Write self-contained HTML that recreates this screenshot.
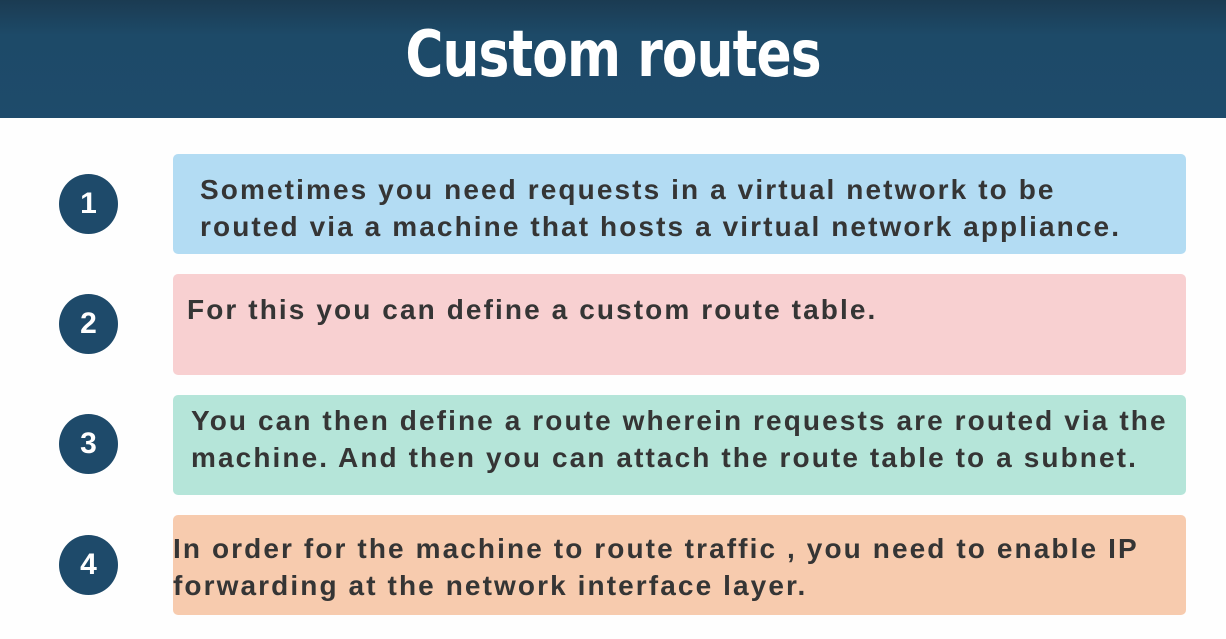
<!DOCTYPE html>
<html><head><style>
body{margin:0;width:1226px;height:639px;background:#fefefe;position:relative;overflow:hidden;font-family:"Liberation Sans",sans-serif}
.hdr{position:absolute;left:0;top:0;width:1226px;height:118px;background:linear-gradient(#1b3b52,#1d4a68 30%,#1e4b6b)}
.title{position:absolute;left:0;width:1226px;top:18px;text-align:center;color:#fff;font-size:64px;font-weight:bold;font-family:"DejaVu Sans Condensed","Liberation Sans Narrow",sans-serif;letter-spacing:-1px;transform:scaleX(0.9)}
.c{position:absolute;left:59px;width:59px;height:60px;border-radius:50%;background:#1e4a6a;color:#fff;font-weight:bold;font-size:30px;text-align:center;line-height:60px}
.b{position:absolute;left:173px;width:1013px;border-radius:5px;color:#353535;font-weight:bold;font-size:28px;letter-spacing:2.1px;line-height:37px;box-sizing:border-box;white-space:nowrap}
</style></head><body>
<div class="hdr"></div>
<div class="title">Custom routes</div>
<div class="c" style="top:174px">1</div>
<div class="c" style="top:294px">2</div>
<div class="c" style="top:414px">3</div>
<div class="c" style="top:535px">4</div>
<div class="b" style="top:154px;height:100px;background:#b3dcf3;padding:17px 0 0 27px">Sometimes you need requests in a virtual network to be<br>routed via a machine that hosts a virtual network appliance.</div>
<div class="b" style="top:274px;height:101px;background:#f8d0d1;padding:17px 0 0 14px">For this you can define a custom route table.</div>
<div class="b" style="top:395px;height:100px;background:#b5e5d9;padding:7px 0 0 18px">You can then define a route wherein requests are routed via the<br>machine. And then you can attach the route table to a subnet.</div>
<div class="b" style="top:515px;height:100px;background:#f7cbae;padding:15px 0 0 0">In order for the machine to route traffic , you need to enable IP<br>forwarding at the network interface layer.</div>
</body></html>
